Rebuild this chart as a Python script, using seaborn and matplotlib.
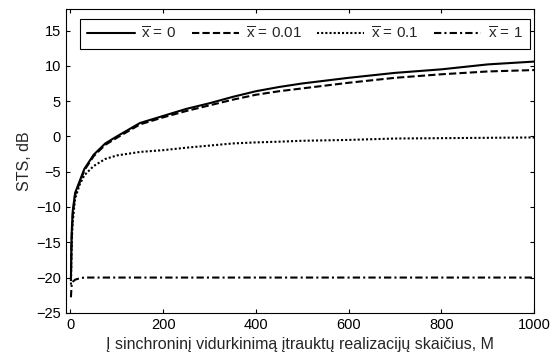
import matplotlib
matplotlib.use("Agg")
import matplotlib.pyplot as plt
import seaborn as sns

# realizaciju skaicius M
m_vals = [1, 2, 3, 5, 10, 20, 30, 50, 75, 100, 150, 200, 250, 300, 350,
          400, 450, 500, 600, 700, 800, 900, 1000]

# STS, dB (nuskaityta is paveikslo)
sts_x0 = [-20.0, -15.5, -13.0, -10.5, -8.0, -6.3, -4.6, -2.6, -1.0, 0.0, 1.9,
          2.9, 3.9, 4.7, 5.6, 6.4, 7.0, 7.5, 8.3, 9.0, 9.5, 10.2, 10.6]
sts_x001 = [-20.5, -16.0, -13.5, -11.0, -8.3, -6.5, -4.8, -2.8, -1.2, -0.2, 1.7,
            2.7, 3.6, 4.4, 5.2, 5.9, 6.4, 6.8, 7.6, 8.3, 8.8, 9.2, 9.4]
sts_x01 = [-21.0, -17.0, -14.5, -12.0, -8.8, -6.8, -5.5, -4.2, -3.2, -2.7, -2.2,
           -1.95, -1.6, -1.3, -1.0, -0.85, -0.75, -0.62, -0.5, -0.3, -0.25, -0.2, -0.15]
sts_x1 = [-22.8, -21.5, -20.8, -20.6, -20.3, -20.1, -20.0, -20.0, -20.0, -20.0, -20.0,
          -20.0, -20.0, -20.0, -20.0, -20.0, -20.0, -20.0, -20.0, -20.0, -20.0, -20.0, -20.0]

labels = [r'$\overline{\mathrm{x}}$ = 0', r'$\overline{\mathrm{x}}$ = 0.01',
          r'$\overline{\mathrm{x}}$ = 0.1', r'$\overline{\mathrm{x}}$ = 1']

sns.set_style("ticks")
plt.rcParams['font.family'] = ['Liberation Sans', 'DejaVu Sans']
plt.rcParams['mathtext.fontset'] = 'custom'
plt.rcParams['mathtext.rm'] = 'Liberation Sans'
plt.rcParams['font.size'] = 10.5

fig = plt.figure(figsize=(5.58, 3.6), dpi=100)
ax = fig.add_axes([0.118, 0.131, 0.839, 0.843])

series = [sts_x0, sts_x001, sts_x01, sts_x1]
styles = ['-', (0, (3.5, 1.5)), (0, (1, 1)), (0, (3.5, 1.5, 1, 1.5))]
for vals, ls, lab in zip(series, styles, labels):
    sns.lineplot(x=m_vals, y=vals, ax=ax, color='k', linewidth=1.5,
                 linestyle=ls, label=lab)

ax.set_xlim(-10, 1000)
ax.set_ylim(-25, 18)
ax.set_xticks(range(0, 1001, 200))
ax.set_yticks(range(-25, 16, 5))
ax.tick_params(direction='in', top=True, right=True, length=3, width=0.8,
               labelsize=10.5, colors='k')
for sp in ax.spines.values():
    sp.set_linewidth(0.8)
    sp.set_color('k')

ax.set_xlabel('Į sinchroninį vidurkinimą įtrauktų realizacijų skaičius, M',
              fontsize=11.5, labelpad=4)
ax.set_ylabel('STS, dB', fontsize=11.5, labelpad=3)

leg = ax.legend(loc='upper center', ncol=4, fancybox=False, framealpha=1,
                edgecolor='k', handlelength=3.1, handletextpad=0.45,
                columnspacing=1.0, borderpad=0.45, borderaxespad=0,
                fontsize=11, bbox_to_anchor=(0.511, 0.969))
leg.get_frame().set_linewidth(0.8)

fig.savefig('out.png', dpi=100)
